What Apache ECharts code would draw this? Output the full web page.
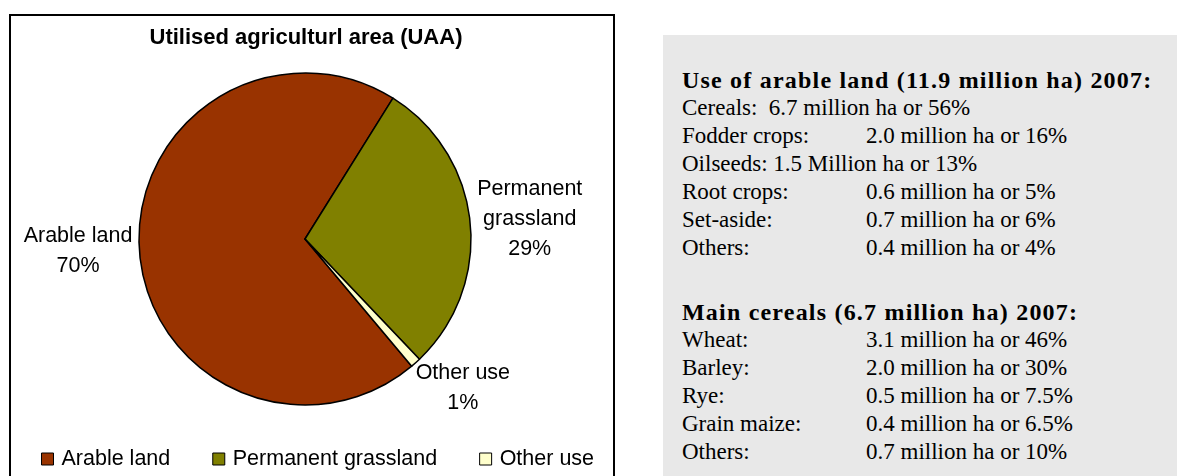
<!DOCTYPE html>
<html>
<head>
<meta charset="utf-8">
<title>Utilised agriculturl area (UAA)</title>
<script src="https://cdn.jsdelivr.net/npm/echarts@6/dist/echarts.min.js"></script>
<style>
  html, body { margin: 0; padding: 0; background: #fff; }
  #graficoUAA { position: absolute; left: 0; top: 0; width: 1177px; height: 476px; }
  #panel {
    position: absolute; left: 663px; top: 35px; width: 514px; height: 441px;
    background: #e8e8e8; box-sizing: border-box; padding: 31px 0 0 19px;
    font-family: "Liberation Serif", "Times New Roman", serif;
    font-size: 23px; line-height: 28px; color: #000; white-space: pre;
  }
  #panel .titulo { font-weight: bold; font-size: 24px; letter-spacing: 1.2px; }
  #panel .bloque2 { margin-top: 36px; }
  #panel .etiqueta { display: inline-block; width: 184px; }
</style>
</head>
<body>
<div id="graficoUAA"></div>
<div id="panel"></div>
<script>
// Datos del grafico
var categorias = ["Arable land", "Permanent grassland", "Other use"];
var porcentajes = [70, 29, 1];
var colores = ["#993300", "#808000", "#FFFFCC"];

// Textos del cuadro gris
var tituloArable = "Use of arable land (11.9 million ha) 2007:";
var usoArable = [
  ["Cereals:  ", "6.7 million ha or 56%", true],
  ["Fodder crops:", "2.0 million ha or 16%", false],
  ["Oilseeds: ", "1.5 Million ha or 13%", true],
  ["Root crops:", "0.6 million ha or 5%", false],
  ["Set-aside:", "0.7 million ha or 6%", false],
  ["Others:", "0.4 million ha or 4%", false],
];
var tituloCereales = "Main cereals (6.7 million ha) 2007:";
var cereales = [
  ["Wheat:", "3.1 million ha or 46%"],
  ["Barley:", "2.0 million ha or 30%"],
  ["Rye:", "0.5 million ha or 7.5%"],
  ["Grain maize:", "0.4 million ha or 6.5%"],
  ["Others:", "0.7 million ha or 10%"],
];

function fila(etiqueta, valor, enLinea) {
  var div = document.createElement("div");
  if (enLinea) {
    div.textContent = etiqueta + valor;
  } else {
    var span = document.createElement("span");
    span.className = "etiqueta";
    span.textContent = etiqueta;
    div.appendChild(span);
    div.appendChild(document.createTextNode(valor));
  }
  return div;
}

function llenarPanel() {
  var panel = document.getElementById("panel");
  var t1 = document.createElement("div");
  t1.className = "titulo";
  t1.textContent = tituloArable;
  panel.appendChild(t1);
  for (var i = 0; i < usoArable.length; i++) {
    panel.appendChild(fila(usoArable[i][0], usoArable[i][1], usoArable[i][2]));
  }
  var t2 = document.createElement("div");
  t2.className = "titulo bloque2";
  t2.textContent = tituloCereales;
  panel.appendChild(t2);
  for (var j = 0; j < cereales.length; j++) {
    panel.appendChild(fila(cereales[j][0], cereales[j][1], false));
  }
}

function updateUAA() {
  var datos = [];
  for (var i = 0; i < categorias.length; i++) {
    var item = {
      name: categorias[i],
      value: porcentajes[i],
      itemStyle: { color: colores[i] },
    };
    // la etiqueta de la porcion pequeña va pegada al borde
    if (i === 2) {
      item.label = { distanceToLabelLine: 0 };
      item.labelLine = { length: 0 };
    }
    datos.push(item);
  }

  var optionUAA = {
    animation: false,
    title: {
      text: "Utilised agriculturl area (UAA)",
      left: 301,
      top: 22,
      textAlign: "center",
      textStyle: {
        fontFamily: "Liberation Sans",
        fontSize: 22,
        fontWeight: "bold",
        color: "#000",
      },
    },
    legend: {
      data: categorias,
      left: 41,
      top: 448,
      padding: 0,
      icon: "rect",
      itemWidth: 12,
      itemHeight: 12,
      itemGap: 42,
      itemStyle: { borderColor: "#000", borderWidth: 1 },
      textStyle: {
        fontFamily: "Liberation Sans",
        fontSize: 21.5,
        color: "#000",
        padding: [0, 0, 0, 3],
      },
    },
    graphic: [
      {
        type: "rect",
        shape: { x: 10, y: 15, width: 604, height: 480 },
        style: { fill: "none", stroke: "#000", lineWidth: 2 },
        silent: true,
      },
    ],
    series: [
      {
        name: "UAA",
        type: "pie",
        center: [305, 239],
        radius: 166,
        startAngle: 310,
        clockwise: true,
        data: datos,
        itemStyle: { borderColor: "#000", borderWidth: 1.5 },
        label: {
          show: true,
          position: "outside",
          fontFamily: "Liberation Sans",
          fontSize: 21.5,
          lineHeight: 30,
          color: "#000",
          formatter: function (p) {
            var nombre = p.name === "Permanent grassland" ? "Permanent\ngrassland" : p.name;
            return nombre + "\n" + Math.round(p.percent) + "%";
          },
        },
        labelLine: { show: false, length: 2, length2: 0 },
        // centrar cada etiqueta en su caja; "Other use" queda algo mas abajo
        labelLayout: function (params) {
          var r = params.labelRect;
          var ajuste = params.dataIndex === 2 ? 25 : params.dataIndex === 1 ? -3 : 0;
          return {
            x: r.x + r.width / 2,
            y: r.y + r.height / 2 + ajuste,
            align: "center",
            verticalAlign: "middle",
          };
        },
      },
    ],
  };

  var chartUAA = echarts.init(document.getElementById("graficoUAA"));
  chartUAA.setOption(optionUAA);
}

llenarPanel();
updateUAA();
</script>
</body>
</html>
